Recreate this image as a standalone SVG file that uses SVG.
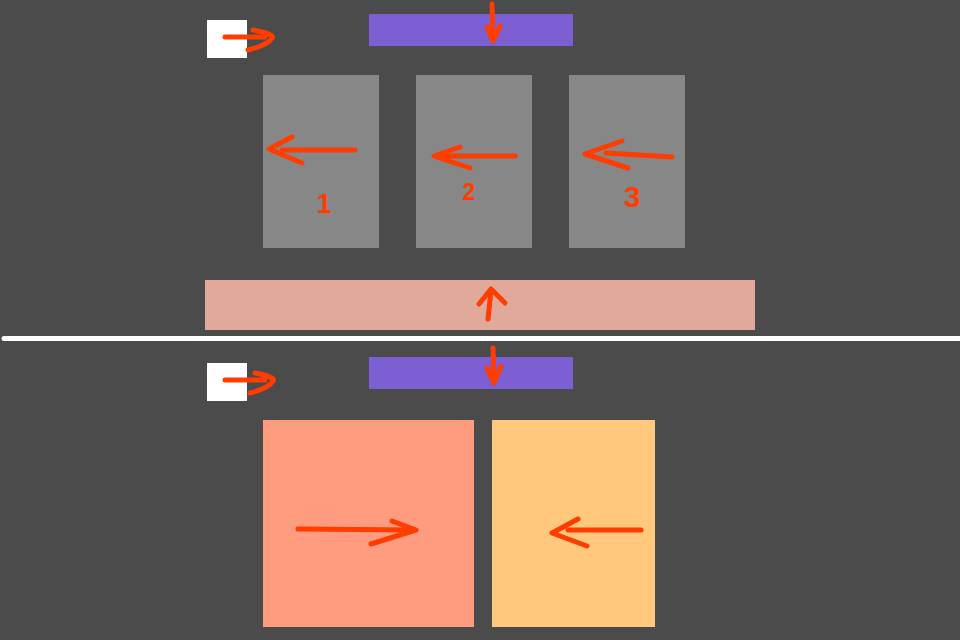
<svg xmlns="http://www.w3.org/2000/svg" width="960" height="640" viewBox="0 0 960 640">
<style>
.bg{fill:#4b4b4b}
.white{fill:#ffffff}
.purple{fill:#7b5fd3}
.gray{fill:#878787}
.bar{fill:#e1a99a}
.big{fill:#ff9c7f}
.orange{fill:#ffc87c}
.ink{fill:none;stroke:#ff3d00;stroke-width:5;stroke-linecap:round;stroke-linejoin:round}
.num{fill:#ff3d00;font-family:"Liberation Sans",sans-serif;font-weight:bold;text-anchor:middle}
</style>
<rect class="bg" x="0" y="0" width="960" height="640"/>
<g id="start-top"><rect class="white" x="207" y="20" width="40" height="38"/></g>
<g id="purple-top"><rect class="purple" x="369" y="14" width="204" height="32"/></g>
<g id="box1"><rect class="gray" x="263" y="75" width="116" height="173"/><text class="num" x="324" y="213" font-size="27">1</text></g>
<g id="box2"><rect class="gray" x="416" y="75" width="116" height="173"/><text class="num" x="469" y="200" font-size="23">2</text></g>
<g id="box3"><rect class="gray" x="569" y="75" width="116" height="173"/><text class="num" x="632" y="207" font-size="30">3</text></g>
<g id="bar"><rect class="bar" x="205" y="280" width="550" height="50"/></g>
<g id="divider"><line x1="4" y1="338.5" x2="960" y2="338.5" stroke="#ffffff" stroke-width="5" stroke-linecap="round"/></g>
<g id="start-bottom"><rect class="white" x="207" y="363" width="40" height="38"/></g>
<g id="purple-bottom"><rect class="purple" x="369" y="357" width="204" height="32"/></g>
<g id="big-left"><rect class="big" x="263" y="420" width="211" height="207"/></g>
<g id="big-right"><rect class="orange" x="492" y="420" width="163" height="207"/></g>
<g id="connectors">
<path class="ink" d="M225 37 L265 37 M253 30 Q275 34 272 38 Q268 45 248 50"/>
<path class="ink" d="M492 4 L493 41 M487 27 L493 41 L500 26"/>
<path class="ink" d="M355 150 L282 150 M292 137 L269 149 L302 163"/>
<path class="ink" d="M515 156 L440 156 M460 147 L434 156 L470 168"/>
<path class="ink" d="M672 157 L606 153 M622 141 L585 154 L628 168"/>
<path class="ink" d="M488 319 L491 291 M479 304 L491 289 L505 303"/>
<path class="ink" d="M493 348 L494 383 M487 368 L494 383 L501 366"/>
<path class="ink" d="M225 380 L265 380 M255 373 Q276 377 273 381 Q269 388 250 393"/>
<path class="ink" d="M298 529 L413 530 M392 521 L416 530 L371 544"/>
<path class="ink" d="M641 530 L568 530 M578 519 L552 533 L587 546"/>
</g>
</svg>
